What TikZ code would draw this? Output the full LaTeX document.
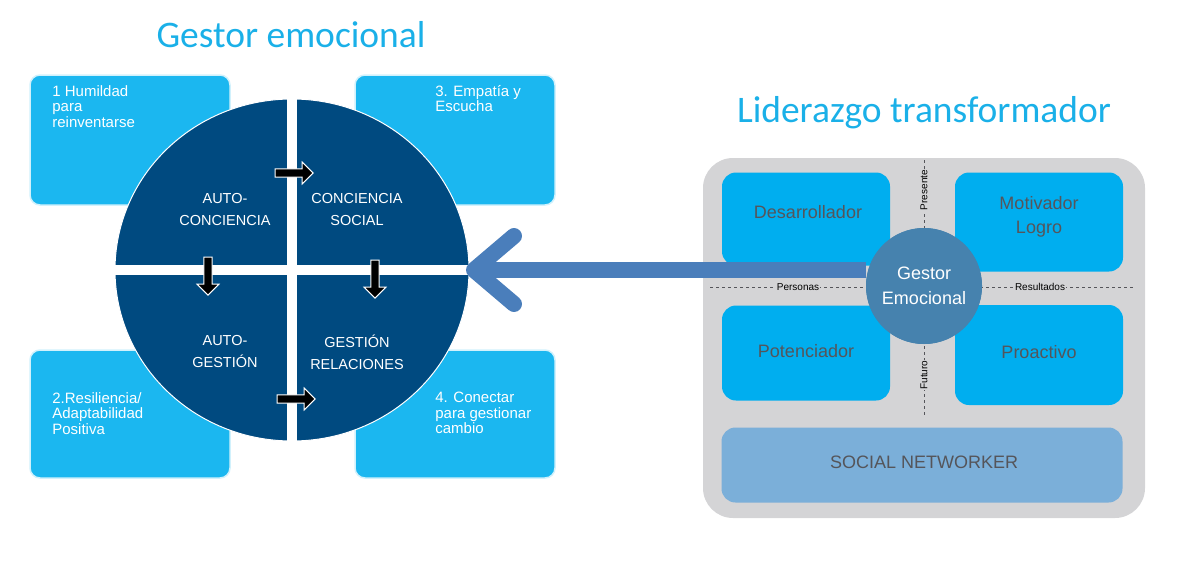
\documentclass[tikz,border=0pt]{standalone}
\usepackage{fontspec}
\setmainfont{Liberation Sans}
\newfontfamily\titfont{Carlito}
\usetikzlibrary{positioning,arrows.meta,shapes.arrows}
\definecolor{cielo}{RGB}{27,183,240}
\definecolor{marino}{RGB}{0,74,128}
\definecolor{titulo}{RGB}{26,176,232}
\definecolor{gris}{RGB}{212,212,214}
\definecolor{azulm}{RGB}{0,174,239}
\definecolor{azulc}{RGB}{123,175,217}
\definecolor{centro}{RGB}{70,130,174}
\definecolor{flecha}{RGB}{74,126,187}
\definecolor{textog}{RGB}{85,85,90}
\tikzset{every picture/.style={line width=0.75pt}}
\tikzset{
  caja/.style={draw=white!80!cielo, line width=1.5pt, fill=cielo, rounded corners=10pt},
  cajatxt/.style={anchor=north west, inner sep=0pt, align=left, text=white, font=\fontsize{15}{15.5}\selectfont},
  cuarto/.style={text=white, align=center, font=\fontsize{14.5}{22}\selectfont},
  bloque/.style={single arrow, draw=white, fill=black, line width=1pt, minimum height=38pt, minimum width=22pt, single arrow head extend=4pt, inner sep=2pt},
  rol/.style={fill=azulm, rounded corners=14pt, text=textog, align=center, font=\fontsize{18}{24}\selectfont},
  eje/.style={dashed, draw=textog, line width=0.8pt},
  ejetxt/.style={fill=gris, inner sep=1pt, text=black, font=\fontsize{10}{10}\selectfont},
  titulos/.style={text=titulo, font=\titfont\fontsize{37.5}{37}\selectfont}
}
\begin{document}
\begin{tikzpicture}[x=1pt,y=1pt,yscale=-1]
  \useasboundingbox (0,0) rectangle (1185,570);

  % titles
  \node[titulos] (t1) at (291,35) {Gestor emocional};
  \node[titulos] (t2) at (924,113) {Liderazgo transformador};

  % corner boxes
  \draw[caja] (30,75) rectangle (230,205);
  \draw[caja] (355,75) rectangle (555,205);
  \draw[caja] (30,350) rectangle (230,478);
  \draw[caja] (355,350) rectangle (555,478);
  \node[cajatxt] (h1) at (52,85) {1 Humildad\\para\\reinventarse};
  \node[cajatxt] (h3) at (435,85) {3. Empatía y\\Escucha};
  \node[cajatxt] (h2) at (52,392) {2.Resiliencia/\\Adaptabilidad\\Positiva};
  \node[cajatxt] (h4) at (435,392) {4. Conectar\\para gestionar\\cambio};

  % circle in four parts
  \fill[marino, draw=white, line width=1pt] (292,270) ellipse (177 and 171);
  \fill[white] (287,95) rectangle (297,460);
  \fill[white] (110,265) rectangle (475,275);
  \node[cuarto] (q1) at (225,210) {AUTO-\\CONCIENCIA};
  \node[cuarto] (q2) at (357,210) {CONCIENCIA\\SOCIAL};
  \node[cuarto] (q3) at (225,352) {AUTO-\\GESTIÓN};
  \node[cuarto] (q4) at (357,352) {GESTIÓN\\RELACIONES};

  % small arrows
  \node[bloque] (b1) at (292,173) {};
  \node[bloque, rotate=-90] (b2) at (208,274) {};
  \node[bloque, rotate=-90] (b3) at (375,277) {};
  \node[bloque] (b4) at (294,399) {};

  % right panel
  \fill[gris, rounded corners=30pt] (703,158) rectangle (1145,518);
  \node[rol, minimum width=168pt, minimum height=93pt] (des) at (806,219) {};
  \node[rol, minimum width=168pt, minimum height=99pt] (mot) at (1039,222) {};
  \node[rol, minimum width=168pt, minimum height=95pt] (pot) at (806,353) {};
  \node[rol, minimum width=168pt, minimum height=100pt] (pro) at (1039,355) {};
  \node[rol, fill=azulc, minimum width=401pt, minimum height=75pt] (soc) at (922,465) {};
  \node[text=textog, font=\fontsize{18}{24}\selectfont] at (808,212) {Desarrollador};
  \node[text=textog, align=center, font=\fontsize{18}{24}\selectfont] at (1039,217) {Motivador\\Logro};
  \node[text=textog, font=\fontsize{18}{24}\selectfont] at (806,351) {Potenciador};
  \node[text=textog, font=\fontsize{18}{24}\selectfont] at (1039,352) {Proactivo};
  \node[text=textog, font=\fontsize{18}{24}\selectfont] at (924,462) {SOCIAL NETWORKER};

  % axes
  \coordinate (ejeO) at (710,287);
  \coordinate (ejeE) at (1135,287);
  \coordinate (ejeN) at (924,160);
  \coordinate (ejeS) at (924,415);
  \draw[eje] (ejeO) -- (ejeE);
  \draw[eje] (ejeN) -- (ejeS);
  \node[ejetxt] (per) at (798,287) {Personas};
  \node[ejetxt] (res) at (1040,287) {Resultados};
  \node[ejetxt, rotate=90] (pre) at (924,190) {Presente};
  \node[ejetxt, rotate=90] (fut) at (924,375) {Futuro};

  % big arrow
  \coordinate (punta) at (474,270);
  \coordinate (ala1) at (514,236);
  \coordinate (ala2) at (514,304);
  \node[circle, fill=centro, minimum size=116pt] (gestor) at (924,286) {};
  \draw[flecha, line width=16pt] (gestor.west |- 0,270) -- (punta);
  \draw[flecha, line width=16pt, line cap=round, line join=round] (ala1) -- (punta) -- (ala2);
  \node[circle, fill=centro, minimum size=116pt, text=white, align=center, font=\fontsize{18}{25}\selectfont] at (gestor) {Gestor\\Emocional};
\end{tikzpicture}
\end{document}
